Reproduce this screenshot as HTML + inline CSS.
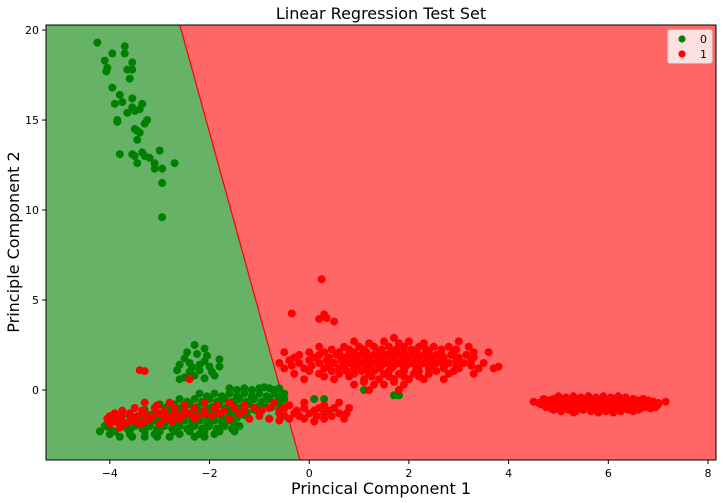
<!DOCTYPE html>
<html><head><meta charset="utf-8"><style>
body{margin:0;background:#fff;}
svg{display:block;font-family:"DejaVu Sans","Liberation Sans",sans-serif;}
</style></head><body>
<svg id="chart" width="726" height="503"></svg>
<script>
const xTicks=[-4,-2,0,2,4,6,8];
const yTicks=[0,5,10,15,20];
const xTickLabels=["−4","−2","0","2","4","6","8"];
const yTickLabels=["0","5","10","15","20"];
const boundary=[[-2.595,20.28],[-0.187,-3.89]];
const greenTop=[-4.25,19.3,-3.7,19.1,-3.95,18.7,-3.7,18.7,-4.1,18.3,-3.55,18.2,-4.05,17.9,-4.07,17.7,-3.65,17.8,-3.55,17.8,-3.6,17.3,-3.95,16.8,-3.8,16.4,-3.55,16.2,-3.75,16.0,-3.9,15.9,-3.35,15.9,-3.4,15.6,-3.55,15.7,-3.5,15.5,-3.65,15.4,-3.85,15.0,-3.85,14.9,-3.25,15.0,-3.3,14.8,-3.5,14.5,-3.45,14.4,-3.4,14.3,-3.45,13.9,-3.8,13.1,-3.55,13.1,-3.5,13.0,-3.35,13.2,-3.3,13.0,-3.45,12.6,-3.2,12.9,-3.0,13.3,-3.1,12.6,-3.1,12.3,-2.95,12.3,-2.7,12.6,-2.95,11.5,-2.95,9.6];
const greenBlob=[-2.3,2.5,-2.1,2.3,-2.45,2.1,-2.25,2.0,-2.05,1.9,-1.8,1.7,-2.6,1.4,-2.4,1.5,-2.2,1.4,-2.0,1.3,-1.8,1.3,-2.65,1.1,-2.4,1.0,-2.2,1.1,-1.95,1.0,-2.5,0.7,-2.3,0.8,-2.1,0.65,-2.6,0.6,-2.35,1.25,-2.1,1.6,-2.5,1.75,-1.9,0.8];
const greenBand=[-1.6,0.1,-1.3,0.1,-1.0,0.1,-0.8,0.1,-0.6,0.1,
-2.2,-0.2,-1.9,-0.2,-1.6,-0.2,-1.3,-0.2,-1.0,-0.2,-0.7,-0.2,-0.5,-0.2,
-2.6,-0.5,-2.3,-0.5,-2.0,-0.5,-1.7,-0.5,-1.4,-0.5,-1.1,-0.5,-0.8,-0.5,-0.5,-0.5,0.1,-0.5,0.3,-0.5,
-3.0,-0.8,-2.7,-0.8,-2.4,-0.8,-2.1,-0.8,-1.8,-0.8,-1.5,-0.8,-1.2,-0.8,-0.9,-0.8,-0.6,-0.8,
-3.3,-1.1,-2.9,-1.1,-2.6,-1.1,-2.3,-1.1,-2.0,-1.1,-1.7,-1.1,-1.4,-1.1,-1.1,-1.1,
-3.6,-1.4,-3.2,-1.4,-2.8,-1.4,-2.5,-1.4,-2.2,-1.4,-1.9,-1.4,-1.6,-1.4,-1.3,-1.4,
-3.9,-1.7,-3.5,-1.7,-3.1,-1.7,-2.8,-1.7,-2.5,-1.7,-2.2,-1.7,-1.9,-1.7,-1.6,-1.7,
-4.1,-2.0,-3.8,-2.0,-3.5,-2.0,-3.2,-2.0,-2.9,-2.0,-2.6,-2.0,-2.3,-2.0,-2.0,-2.0,-1.7,-2.0,-1.4,-2.0,
-4.2,-2.3,-3.9,-2.3,-3.6,-2.3,-3.3,-2.3,-3.0,-2.3,-2.7,-2.3,-2.4,-2.3,-2.1,-2.3,-1.8,-2.3,-1.5,-2.3,
-3.8,-2.6,-3.3,-2.6,-2.8,-2.6,-2.3,-2.6,-2.1,-2.6,1.1,0.0,1.7,-0.3,1.8,-0.3];
const greenBandFill=[-1.45,0.0,-1.15,0.0,-0.9,0.15,-0.7,0.0,
-2.05,-0.35,-1.75,-0.35,-1.45,-0.35,-1.15,-0.35,-0.85,-0.35,-0.6,-0.35,
-2.45,-0.65,-2.15,-0.65,-1.85,-0.65,-1.55,-0.65,-1.25,-0.65,-0.95,-0.65,-0.65,-0.65,
-2.85,-0.95,-2.55,-0.95,-2.25,-0.95,-1.95,-0.95,-1.65,-0.95,-1.35,-0.95,-1.05,-0.95,-0.75,-0.95,
-3.1,-1.25,-2.75,-1.25,-2.45,-1.25,-2.15,-1.25,-1.85,-1.25,-1.55,-1.25,-1.25,-1.25,
-3.4,-1.55,-3.0,-1.55,-2.65,-1.55,-2.35,-1.55,-2.05,-1.55,-1.75,-1.55,-1.45,-1.55,
-3.7,-1.85,-3.3,-1.85,-2.95,-1.85,-2.65,-1.85,-2.35,-1.85,-2.05,-1.85,-1.75,-1.85,-1.5,-1.85,
-4.0,-2.15,-3.65,-2.15,-3.35,-2.15,-3.05,-2.15,-2.75,-2.15,-2.45,-2.15,-2.15,-2.15,-1.85,-2.15,-1.55,-2.15,
-4.0,-2.45,-3.6,-2.45,-3.1,-2.45,-2.6,-2.45,-2.2,-2.45,-1.9,-2.45,-3.55,-2.6,-3.05,-2.6];
const redOutliers=[0.25,6.15,-0.35,4.25,0.3,4.2,0.2,3.95,0.35,4.0,0.5,3.8,-3.4,1.1,-3.3,1.05,-2.4,0.6,0.75,-1.3];
const redMid=[0.9,2.7,1.5,2.7,1.7,2.9,2.0,2.7,3.0,2.7,
0.2,2.4,0.7,2.4,1.0,2.4,1.3,2.4,1.6,2.4,1.9,2.4,2.2,2.4,2.5,2.4,2.8,2.4,3.2,2.4,
-0.5,2.1,0.0,2.1,0.3,2.1,0.6,2.1,0.9,2.1,1.15,2.1,1.4,2.1,1.65,2.1,1.9,2.1,2.15,2.1,2.4,2.1,2.65,2.1,2.9,2.1,3.3,2.1,3.6,2.1,
-0.3,1.8,0.1,1.8,0.4,1.8,0.7,1.8,0.95,1.8,1.2,1.8,1.45,1.8,1.7,1.8,1.95,1.8,2.2,1.8,2.45,1.8,2.7,1.8,3.0,1.8,3.3,1.8,
-0.6,1.5,-0.2,1.5,0.2,1.5,0.5,1.5,0.8,1.5,1.05,1.5,1.3,1.5,1.55,1.5,1.8,1.5,2.05,1.5,2.3,1.5,2.55,1.5,2.8,1.5,3.1,1.5,3.5,1.5,3.8,1.3,
-0.5,1.2,-0.1,1.2,0.3,1.2,0.6,1.2,0.9,1.2,1.15,1.2,1.4,1.2,1.65,1.2,1.9,1.2,2.15,1.2,2.4,1.2,2.7,1.2,3.0,1.2,3.4,1.2,3.7,1.2,
-0.3,0.9,0.2,0.9,0.6,0.9,0.9,0.9,1.2,0.9,1.5,0.9,1.8,0.9,2.1,0.9,2.4,0.9,2.8,0.9,3.3,0.9,
-0.1,0.6,0.5,0.6,1.1,0.6,1.4,0.6,1.7,0.6,2.0,0.6,2.3,0.6,2.7,0.6,
0.9,0.3,1.3,0.3,1.5,0.3,1.9,0.3,1.2,0.0,1.8,0.0];
const redMidFill=[1.2,2.6,1.8,2.6,2.3,2.6,
0.45,2.25,0.8,2.25,1.1,2.25,1.45,2.25,1.75,2.25,2.05,2.25,2.35,2.25,2.65,2.25,2.95,2.25,
-0.2,1.95,0.2,1.95,0.55,1.95,0.8,1.95,1.05,1.95,1.3,1.95,1.55,1.95,1.8,1.95,2.05,1.95,2.3,1.95,2.55,1.95,2.85,1.95,3.15,1.95,
-0.4,1.65,0.0,1.65,0.35,1.65,0.65,1.65,0.9,1.65,1.15,1.65,1.4,1.65,1.65,1.65,1.9,1.65,2.15,1.65,2.4,1.65,2.65,1.65,2.95,1.65,3.25,1.65,
-0.35,1.35,0.05,1.35,0.4,1.35,0.7,1.35,0.95,1.35,1.2,1.35,1.45,1.35,1.7,1.35,1.95,1.35,2.2,1.35,2.45,1.35,2.7,1.35,2.95,1.35,3.25,1.35,
0.0,1.05,0.45,1.05,0.75,1.05,1.05,1.05,1.3,1.05,1.6,1.05,1.9,1.05,2.2,1.05,2.55,1.05,2.9,1.05,
0.3,0.75,0.8,0.75,1.25,0.75,1.6,0.75,1.9,0.75,2.2,0.75,1.1,0.45,1.7,0.45];
const redBand=[-3.3,-0.7,-2.8,-0.7,-2.1,-0.7,-1.6,-0.7,-0.7,-0.7,-0.1,-0.7,0.6,-0.7,
-3.5,-1.0,-3.1,-1.0,-2.7,-1.0,-2.3,-1.0,-1.9,-1.0,-1.5,-1.0,-1.1,-1.0,-0.8,-1.0,-0.5,-1.0,-0.1,-1.0,0.2,-1.0,0.5,-1.0,0.8,-1.0,
-3.9,-1.3,-3.6,-1.3,-3.3,-1.3,-3.0,-1.3,-2.7,-1.3,-2.4,-1.3,-2.1,-1.3,-1.8,-1.3,-1.4,-1.3,-1.0,-1.3,-0.6,-1.3,-0.3,-1.3,0.0,-1.3,0.3,-1.3,0.6,-1.3,
-4.05,-1.6,-3.8,-1.6,-3.5,-1.6,-3.2,-1.6,-2.9,-1.6,-2.6,-1.6,-2.3,-1.6,-1.6,-1.6,-1.2,-1.6,-0.8,-1.6,-0.4,-1.6,-0.1,-1.6,0.3,-1.6,0.7,-1.6,
-4.0,-1.9,-3.7,-1.9,-3.4,-1.9,-3.0,-1.9,-3.8,-2.1];
const redBandFill=[-3.05,-0.85,-2.5,-0.85,-1.85,-0.85,-1.3,-0.85,-0.4,-0.85,0.3,-0.85,
-3.75,-1.15,-3.35,-1.15,-2.9,-1.15,-2.5,-1.15,-2.1,-1.15,-1.7,-1.15,-1.3,-1.15,-0.95,-1.15,-0.6,-1.15,-0.25,-1.15,0.1,-1.15,0.4,-1.15,
-4.0,-1.45,-3.75,-1.45,-3.45,-1.45,-3.15,-1.45,-2.85,-1.45,-2.55,-1.45,-2.25,-1.45,-1.95,-1.45,-1.0,-1.45,-0.5,-1.45,-0.2,-1.45,0.15,-1.45,0.45,-1.45,
-3.9,-1.75,-3.6,-1.75,-3.3,-1.75,-2.75,-1.75,-0.6,-1.7,0.1,-1.75];
const redRight=[5.0,-0.35,5.3,-0.35,5.6,-0.35,5.9,-0.35,6.2,-0.35,
4.7,-0.5,4.9,-0.5,5.1,-0.5,5.3,-0.5,5.5,-0.5,5.7,-0.5,5.9,-0.5,6.1,-0.5,6.3,-0.5,6.5,-0.5,6.7,-0.5,
4.5,-0.65,4.7,-0.65,4.9,-0.65,5.1,-0.65,5.3,-0.65,5.5,-0.65,5.7,-0.65,5.9,-0.65,6.1,-0.65,6.3,-0.65,6.5,-0.65,6.7,-0.65,6.9,-0.65,7.15,-0.65,
4.65,-0.8,4.85,-0.8,5.05,-0.8,5.25,-0.8,5.45,-0.8,5.65,-0.8,5.85,-0.8,6.05,-0.8,6.25,-0.8,6.45,-0.8,6.65,-0.8,6.85,-0.8,7.0,-0.8,
4.75,-0.95,4.95,-0.95,5.15,-0.95,5.35,-0.95,5.55,-0.95,5.75,-0.95,5.95,-0.95,6.15,-0.95,6.35,-0.95,6.55,-0.95,6.75,-0.95,6.95,-0.95,
4.9,-1.1,5.2,-1.1,5.5,-1.1,5.8,-1.1,6.1,-1.1,6.4,-1.1,6.6,-1.1,5.3,-1.25,5.8,-1.25,6.1,-1.25];
const redRightFill=[5.15,-0.42,5.45,-0.42,5.75,-0.42,6.05,-0.42,6.35,-0.42,
4.8,-0.58,5.0,-0.58,5.2,-0.58,5.4,-0.58,5.6,-0.58,5.8,-0.58,6.0,-0.58,6.2,-0.58,6.4,-0.58,6.6,-0.58,6.8,-0.58,
4.6,-0.72,4.8,-0.72,5.0,-0.72,5.2,-0.72,5.4,-0.72,5.6,-0.72,5.8,-0.72,6.0,-0.72,6.2,-0.72,6.4,-0.72,6.6,-0.72,6.8,-0.72,7.0,-0.72,
4.75,-0.88,4.95,-0.88,5.15,-0.88,5.35,-0.88,5.55,-0.88,5.75,-0.88,5.95,-0.88,6.15,-0.88,6.35,-0.88,6.55,-0.88,6.75,-0.88,6.95,-0.88,
4.85,-1.02,5.05,-1.02,5.25,-1.02,5.45,-1.02,5.65,-1.02,5.85,-1.02,6.05,-1.02,6.25,-1.02,6.45,-1.02,6.65,-1.02,6.85,-1.02,
5.05,-1.18,5.35,-1.18,5.65,-1.18,5.95,-1.18,6.25,-1.18,6.5,-1.18];

const NS="http://www.w3.org/2000/svg";
const svg=document.getElementById('chart');
const L=46,R=716,T=25,B=460;
const xMin=-5.28,xMax=8.16,yMin=-3.89,yMax=20.28;
function sx(v){return L+(v-xMin)/(xMax-xMin)*(R-L);}
function sy(v){return B-(v-yMin)/(yMax-yMin)*(B-T);}
function mk(tag,attrs,parent){const e=document.createElementNS(NS,tag);for(const k in attrs)e.setAttribute(k,attrs[k]);(parent||svg).appendChild(e);return e;}

const bx0=sx(boundary[0][0]),by0=sy(boundary[0][1]),bx1=sx(boundary[1][0]),by1=sy(boundary[1][1]);
const gReg=mk('polygon',{points:`${L},${T} ${bx0},${by0} ${bx1},${by1} ${L},${B}`,fill:'#66b266'});


const rReg=mk('polygon',{points:`${bx0},${by0} ${R},${T} ${R},${B} ${bx1},${by1}`,fill:'#ff6666'});


const bl=mk('line',{x1:bx0,y1:by0,x2:bx1,y2:by1,stroke:'#ff0000','stroke-width':1.2});



function drawPts(arr,color,name){
  const g=mk('g',{fill:color});
  
  
  for(let i=0;i<arr.length;i+=2){
    const c=mk('circle',{cx:sx(arr[i]),cy:sy(arr[i+1]),r:4},g);
    
    
  }
}
drawPts(greenTop,'#008000','class-0-points-top');
drawPts(greenBlob,'#008000','class-0-points-blob');
drawPts(greenBand,'#008000','class-0-points-band');
drawPts(greenBandFill,'#008000','class-0-points-band-dense');
drawPts(redOutliers,'#ff0000','class-1-points-outliers');
drawPts(redMid,'#ff0000','class-1-points-middle');
drawPts(redMidFill,'#ff0000','class-1-points-middle-dense');
drawPts(redBand,'#ff0000','class-1-points-band');
drawPts(redBandFill,'#ff0000','class-1-points-band-dense');
drawPts(redRight,'#ff0000','class-1-points-right');
drawPts(redRightFill,'#ff0000','class-1-points-right-dense');

const frame=mk('rect',{x:L,y:T,width:R-L,height:B-T,fill:'none',stroke:'#000','stroke-width':1});



xTicks.forEach((v,i)=>{
  const x=sx(v);
  const t=mk('line',{x1:x,y1:B,x2:x,y2:B+4,stroke:'#000'});
  
  
  const l=mk('text',{x:x,y:B+17,'text-anchor':'middle','font-size':11});
  l.textContent=xTickLabels[i];
  
  
});
yTicks.forEach((v,i)=>{
  const y=sy(v);
  const t=mk('line',{x1:L-4,y1:y,x2:L,y2:y,stroke:'#000'});
  
  
  const l=mk('text',{x:L-7,y:y+4,'text-anchor':'end','font-size':11});
  l.textContent=yTickLabels[i];
  
  
});
</script>
<svg style="position:absolute;left:0;top:0" width="726" height="503">
<text x="381" y="19" text-anchor="middle" font-size="16" font-family="DejaVu Sans,sans-serif">Linear Regression Test Set</text>
<text x="381" y="494" text-anchor="middle" font-size="16" font-family="DejaVu Sans,sans-serif">Princical Component 1</text>
<text transform="translate(19,242) rotate(-90)" text-anchor="middle" font-size="16" font-family="DejaVu Sans,sans-serif">Principle Component 2</text>
<g>
<rect x="668" y="30" width="44" height="33" rx="2" fill="#ffe0e0" stroke="#dddddd"/>
<circle cx="682" cy="39" r="3.6" fill="#008000"/>
<text x="700" y="43" font-size="11" font-family="DejaVu Sans,sans-serif">0</text>
<circle cx="682" cy="54" r="3.6" fill="#ff0000"/>
<text x="700" y="58" font-size="11" font-family="DejaVu Sans,sans-serif">1</text>
</g>
</svg>
</body></html>
